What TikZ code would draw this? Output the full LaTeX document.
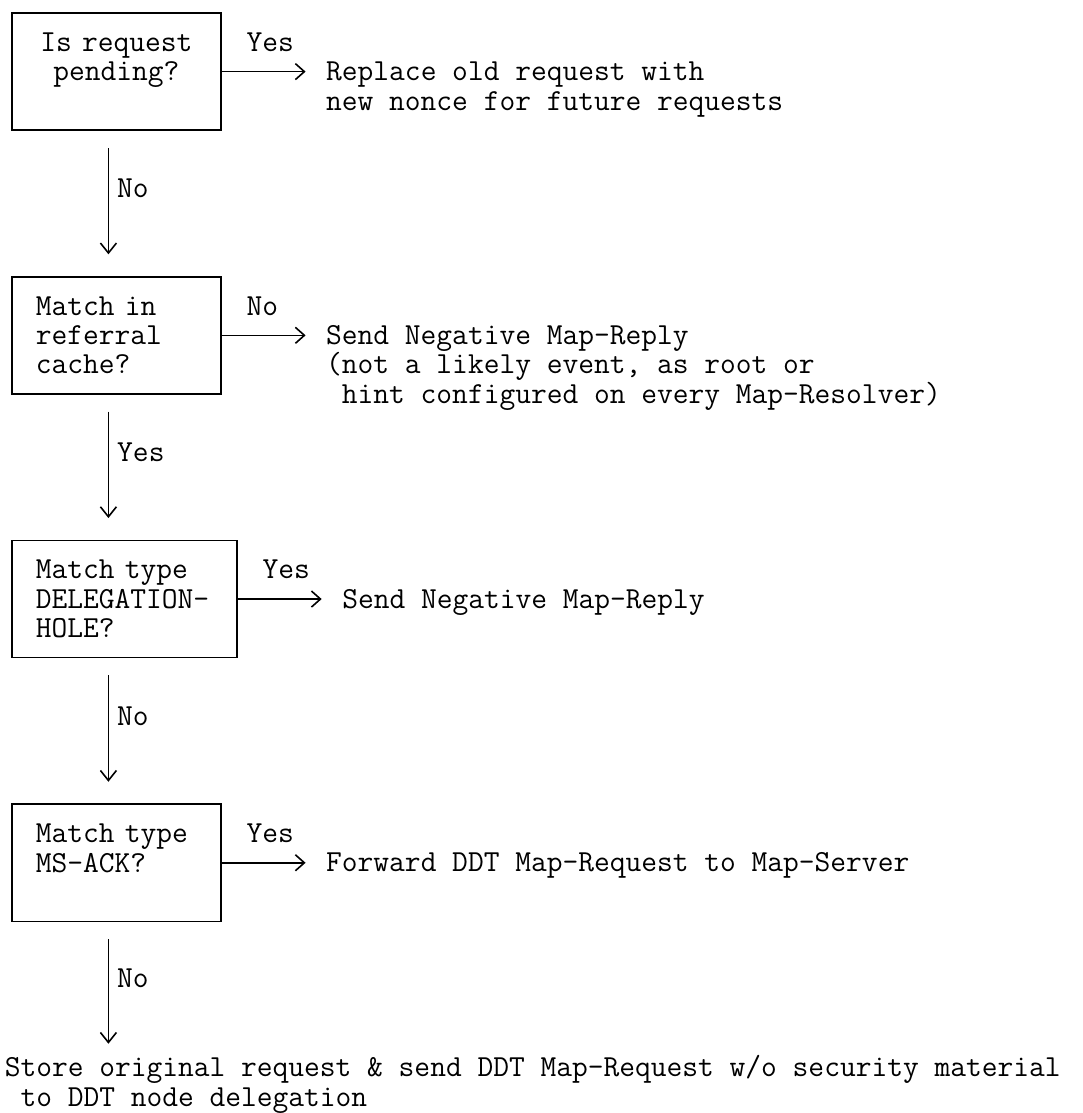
\documentclass[tikz,border=0pt]{standalone}
\usepackage{tikz}
\usetikzlibrary{arrows.meta}
\newcommand{\asciifont}{\ttfamily\fontsize{15.3pt}{14.65pt}\selectfont}
\tikzset{question/.style={draw, rectangle, font=\asciifont, align=left,
        text width=80.6pt, inner xsep=11.9pt, inner ysep=0pt, minimum height=58.6pt},
    answer/.style={font=\asciifont, align=left, inner sep=0pt, anchor=base west},
    choice/.style={font=\asciifont, inner sep=0pt, anchor=base west},
    sidechoice/.style={choice, pos=0, xshift=12.05pt, yshift=10.1pt},
    downchoice/.style={choice, xshift=4pt},
    sideflow/.style={-{Straight Barb[length=4.5pt, width=8pt]}, shorten >=9.9pt},
    downflow/.style={-{Straight Barb[length=5pt, width=8pt]}, shorten <=8.5pt, shorten >=10.8pt}}

\begin{document}
\begin{tikzpicture}
		[thick, x=8.035pt, y=-14.65pt]
		\useasboundingbox (-0.747,-0.444) rectangle (66.58,37.54);
		\coordinate (stem) at (6,0);
		% questions
		\node[question, align=center] (pending) at (6.5,2) {Is request\\pending?\\\mbox{}};
		\node[question] (cache) at (6.5,11) {Match in\\referral\\cache?};
		\node[question, text width=88.65pt] (hole) at (7,20) {Match type\\DELEGATION-\\HOLE?};
		\node[question] (msack) at (6.5,29) {Match type\\MS-ACK?\\\mbox{}};
		% outcomes (base = last line)
		\node[answer] (replace) at (19.5,3.31) {Replace old request with\\new nonce for future requests};
		\node[answer] (negative) at (19.5,13.31) {Send Negative Map-Reply\\(not a likely event, as root or\\\hphantom{x}hint configured on every Map-Resolver)};
		\node[answer] (holereply) at (20.5,20.31) {Send Negative Map-Reply};
		\node[answer] (forward) at (19.5,29.31) {Forward DDT Map-Request to Map-Server};
		\node[answer] (store) at (-0.5,37.31) {Store original request \& send DDT Map-Request w/o security material\\\hphantom{x}to DDT node delegation};
		\draw[sideflow] (pending.east) -- node[sidechoice]{Yes} (pending.east -| replace.west);
		\draw[sideflow] (cache.east) -- node[sidechoice]{No} (cache.east -| negative.west);
		\draw[sideflow] (hole.east) -- node[sidechoice]{Yes} (hole.east -| holereply.west);
		\draw[sideflow] (msack.east) -- node[sidechoice]{Yes} (msack.east -| forward.west);
		\draw[downflow] (pending.south -| stem) -- node[downchoice, pos=0.462]{No} (cache.north -| stem);
		\draw[downflow] (cache.south -| stem) -- node[downchoice, pos=0.462]{Yes} (hole.north -| stem);
		\draw[downflow] (hole.south -| stem) -- node[downchoice, pos=0.462]{No} (msack.north -| stem);
		\draw[downflow, shorten >=5.6pt] (msack.south -| stem) -- node[downchoice, pos=0.495]{No} (store.north -| stem);
\end{tikzpicture}
\end{document}
